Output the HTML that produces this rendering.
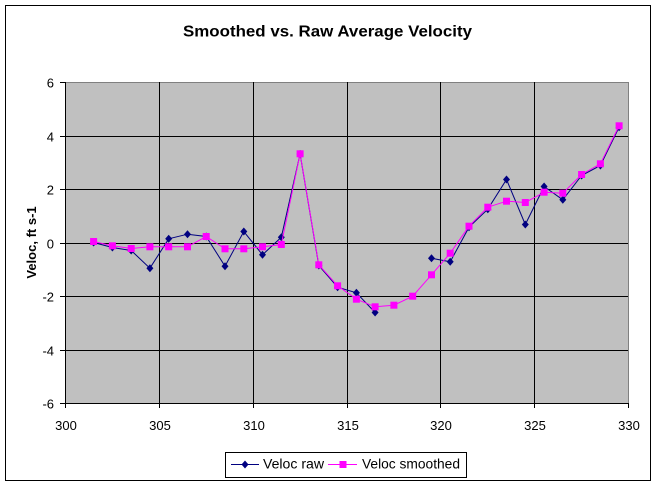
<!DOCTYPE html>
<html><head><meta charset="utf-8"><style>
html,body{margin:0;padding:0;background:#fff;}
svg{display:block;}
text{font-family:"Liberation Sans",Arial,sans-serif;fill:#000;}
</style></head><body>
<svg width="658" height="488" viewBox="0 0 658 488" xmlns="http://www.w3.org/2000/svg">
<rect x="0" y="0" width="658" height="488" fill="#fff"/>
<rect x="5.5" y="5.5" width="645" height="475" fill="#fff" stroke="#000" stroke-width="1"/>
<text x="327.5" y="36.5" text-anchor="middle" font-size="16" font-weight="bold" textLength="289" lengthAdjust="spacingAndGlyphs">Smoothed vs. Raw Average Velocity</text>
<!-- plot area -->
<rect x="65" y="82" width="563" height="321" fill="#c0c0c0"/>
<line x1="65" y1="82.5" x2="628.5" y2="82.5" stroke="#808080"/>
<line x1="628.5" y1="82" x2="628.5" y2="403" stroke="#808080"/>
<g stroke="#000" stroke-width="1">
<line x1="65" y1="136.5" x2="628" y2="136.5"/>
<line x1="65" y1="189.5" x2="628" y2="189.5"/>
<line x1="65" y1="243.5" x2="628" y2="243.5"/>
<line x1="65" y1="296.5" x2="628" y2="296.5"/>
<line x1="65" y1="350.5" x2="628" y2="350.5"/>
<line x1="159.5" y1="82" x2="159.5" y2="403"/>
<line x1="253.5" y1="82" x2="253.5" y2="403"/>
<line x1="347.5" y1="82" x2="347.5" y2="403"/>
<line x1="440.5" y1="82" x2="440.5" y2="403"/>
<line x1="534.5" y1="82" x2="534.5" y2="403"/>
<!-- axes -->
<line x1="65.5" y1="82" x2="65.5" y2="404"/>
<line x1="65" y1="403.5" x2="629" y2="403.5"/>
<!-- y ticks -->
<line x1="60" y1="82.5" x2="65" y2="82.5"/>
<line x1="60" y1="136.5" x2="65" y2="136.5"/>
<line x1="60" y1="189.5" x2="65" y2="189.5"/>
<line x1="60" y1="243.5" x2="65" y2="243.5"/>
<line x1="60" y1="296.5" x2="65" y2="296.5"/>
<line x1="60" y1="350.5" x2="65" y2="350.5"/>
<line x1="60" y1="403.5" x2="65" y2="403.5"/>
<!-- x ticks -->
<line x1="65.5" y1="403" x2="65.5" y2="408"/>
<line x1="159.5" y1="403" x2="159.5" y2="408"/>
<line x1="253.5" y1="403" x2="253.5" y2="408"/>
<line x1="347.5" y1="403" x2="347.5" y2="408"/>
<line x1="440.5" y1="403" x2="440.5" y2="408"/>
<line x1="534.5" y1="403" x2="534.5" y2="408"/>
<line x1="628.5" y1="403" x2="628.5" y2="408"/>
</g>
<g font-size="13" text-anchor="end">
<text x="54" y="87.5">6</text>
<text x="54" y="141.5">4</text>
<text x="54" y="194.5">2</text>
<text x="54" y="248.5">0</text>
<text x="54" y="301.5">-2</text>
<text x="54" y="355.5">-4</text>
<text x="54" y="408.5">-6</text>
</g>
<g font-size="13" text-anchor="middle">
<text x="66" y="430">300</text>
<text x="160" y="430">305</text>
<text x="254" y="430">310</text>
<text x="348" y="430">315</text>
<text x="441" y="430">320</text>
<text x="535" y="430">325</text>
<text x="629" y="430">330</text>
</g>
<text transform="translate(36,242.5) rotate(-90)" text-anchor="middle" font-size="13" font-weight="bold">Veloc, ft s-1</text>
<!-- raw series -->
<g fill="none" stroke="#000080" stroke-width="1">
<polyline points="93.6,242.5 112.4,247.5 131.2,250.5 149.9,268.2 168.7,238.8 187.5,234.2 206.2,236.5 225,266.2 243.8,231.5 262.5,254.8 281.3,237.2 300.1,154 318.8,265.5 337.6,287.2 356.4,292.8 375.1,312.5"/>
<polyline points="431.5,258.2 450.2,261.8 469,227.2 487.8,209.2 506.5,179.5 525.3,224.5 544.1,186.5 562.8,199.8 581.6,175.5 600.4,165.5 619.1,127.2"/>
</g>
<g fill="#000080">
<polygon points="93.6,238.5 97.1,242.5 93.6,246.5 90.1,242.5"/>
<polygon points="112.4,243.5 115.9,247.5 112.4,251.5 108.9,247.5"/>
<polygon points="131.2,246.5 134.7,250.5 131.2,254.5 127.7,250.5"/>
<polygon points="149.9,264.2 153.4,268.2 149.9,272.2 146.4,268.2"/>
<polygon points="168.7,234.8 172.2,238.8 168.7,242.8 165.2,238.8"/>
<polygon points="187.5,230.2 191,234.2 187.5,238.2 184,234.2"/>
<polygon points="206.2,232.5 209.7,236.5 206.2,240.5 202.7,236.5"/>
<polygon points="225,262.2 228.5,266.2 225,270.2 221.5,266.2"/>
<polygon points="243.8,227.5 247.3,231.5 243.8,235.5 240.3,231.5"/>
<polygon points="262.5,250.8 266,254.8 262.5,258.8 259,254.8"/>
<polygon points="281.3,233.2 284.8,237.2 281.3,241.2 277.8,237.2"/>
<polygon points="300.1,150 303.6,154 300.1,158 296.6,154"/>
<polygon points="318.8,261.5 322.3,265.5 318.8,269.5 315.3,265.5"/>
<polygon points="337.6,283.2 341.1,287.2 337.6,291.2 334.1,287.2"/>
<polygon points="356.4,288.8 359.9,292.8 356.4,296.8 352.9,292.8"/>
<polygon points="375.1,308.5 378.6,312.5 375.1,316.5 371.6,312.5"/>
<polygon points="431.5,254.2 435,258.2 431.5,262.2 428,258.2"/>
<polygon points="450.2,257.8 453.7,261.8 450.2,265.8 446.7,261.8"/>
<polygon points="469,223.2 472.5,227.2 469,231.2 465.5,227.2"/>
<polygon points="487.8,205.2 491.3,209.2 487.8,213.2 484.3,209.2"/>
<polygon points="506.5,175.5 510,179.5 506.5,183.5 503,179.5"/>
<polygon points="525.3,220.5 528.8,224.5 525.3,228.5 521.8,224.5"/>
<polygon points="544.1,182.5 547.6,186.5 544.1,190.5 540.6,186.5"/>
<polygon points="562.8,195.8 566.3,199.8 562.8,203.8 559.3,199.8"/>
<polygon points="581.6,171.5 585.1,175.5 581.6,179.5 578.1,175.5"/>
<polygon points="600.4,161.5 603.9,165.5 600.4,169.5 596.9,165.5"/>
<polygon points="619.1,123.2 622.6,127.2 619.1,131.2 615.6,127.2"/>
</g>
<!-- smoothed series -->
<polyline fill="none" stroke="#ff00ff" stroke-width="1" points="93.6,241.5 112.4,245.8 131.2,248.5 149.9,246.8 168.7,246.8 187.5,246.8 206.2,236.5 225,248.8 243.8,248.8 262.5,246.8 281.3,244.5 300.1,153.8 318.8,264.8 337.6,285.8 356.4,299.2 375.1,306.8 393.9,305.2 412.7,296.2 431.5,274.8 450.2,253.2 469,226.2 487.8,207.2 506.5,201.2 525.3,202.5 544.1,192.2 562.8,193.2 581.6,174.5 600.4,163.8 619.1,125.8"/>
<g fill="#ff00ff">
<rect x="90.1" y="238" width="7" height="7"/>
<rect x="108.9" y="242.3" width="7" height="7"/>
<rect x="127.7" y="245" width="7" height="7"/>
<rect x="146.4" y="243.3" width="7" height="7"/>
<rect x="165.2" y="243.3" width="7" height="7"/>
<rect x="184" y="243.3" width="7" height="7"/>
<rect x="202.7" y="233" width="7" height="7"/>
<rect x="221.5" y="245.3" width="7" height="7"/>
<rect x="240.3" y="245.3" width="7" height="7"/>
<rect x="259" y="243.3" width="7" height="7"/>
<rect x="277.8" y="241" width="7" height="7"/>
<rect x="296.6" y="150.3" width="7" height="7"/>
<rect x="315.3" y="261.3" width="7" height="7"/>
<rect x="334.1" y="282.3" width="7" height="7"/>
<rect x="352.9" y="295.7" width="7" height="7"/>
<rect x="371.6" y="303.3" width="7" height="7"/>
<rect x="390.4" y="301.7" width="7" height="7"/>
<rect x="409.2" y="292.7" width="7" height="7"/>
<rect x="428" y="271.3" width="7" height="7"/>
<rect x="446.7" y="249.7" width="7" height="7"/>
<rect x="465.5" y="222.7" width="7" height="7"/>
<rect x="484.3" y="203.7" width="7" height="7"/>
<rect x="503" y="197.7" width="7" height="7"/>
<rect x="521.8" y="199" width="7" height="7"/>
<rect x="540.6" y="188.7" width="7" height="7"/>
<rect x="559.3" y="189.7" width="7" height="7"/>
<rect x="578.1" y="171" width="7" height="7"/>
<rect x="596.9" y="160.3" width="7" height="7"/>
<rect x="615.6" y="122.3" width="7" height="7"/>
</g>
<!-- legend -->
<rect x="225.5" y="452.5" width="241" height="25" fill="#fff" stroke="#000" stroke-width="1"/>
<line x1="231" y1="464.5" x2="259" y2="464.5" stroke="#000080"/>
<polygon points="245,460.5 248.5,464.5 245,468.5 241.5,464.5" fill="#000080"/>
<text x="263" y="468.5" font-size="13.5" textLength="61" lengthAdjust="spacingAndGlyphs">Veloc raw</text>
<line x1="328" y1="464.5" x2="357" y2="464.5" stroke="#ff00ff"/>
<rect x="339.5" y="461" width="7" height="7" fill="#ff00ff"/>
<text x="362" y="468.5" font-size="13.5" textLength="98" lengthAdjust="spacingAndGlyphs">Veloc smoothed</text>
</svg>
</body></html>
